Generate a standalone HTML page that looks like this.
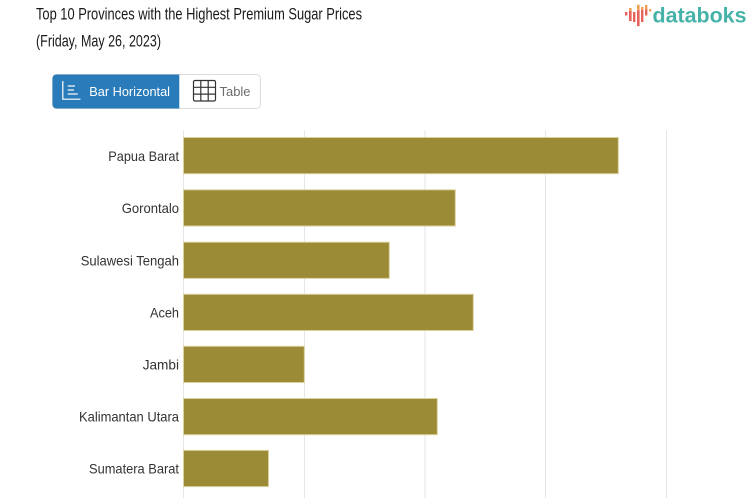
<!DOCTYPE html>
<html>
<head>
<meta charset="utf-8">
<style>
  html, body { margin: 0; padding: 0; background: #ffffff; }
  body { width: 753px; height: 498px; overflow: hidden; }
  svg { display: block; }
  text { font-family: "Liberation Sans", Arial, sans-serif; }
</style>
</head>
<body>
<svg width="753" height="498" viewBox="0 0 753 498" xmlns="http://www.w3.org/2000/svg">
  <!-- Title -->
  <text x="36" y="19.5" font-size="17" fill="#1a1a1a" textLength="326" lengthAdjust="spacingAndGlyphs">Top 10 Provinces with the Highest Premium Sugar Prices</text>
  <text x="36" y="46.5" font-size="17" fill="#1a1a1a" textLength="125" lengthAdjust="spacingAndGlyphs">(Friday, May 26, 2023)</text>

  <!-- Logo -->
  <g>
    <rect x="625" y="12" width="2.4" height="3.5" fill="#e8615a"/>
    <rect x="629" y="8" width="2.6" height="3" fill="#f2a053"/>
    <rect x="629" y="11" width="2.6" height="10" fill="#e8615a"/>
    <rect x="633" y="12" width="2.4" height="10" fill="#e8615a"/>
    <rect x="637" y="4.7" width="2.6" height="5.5" fill="#f2a053"/>
    <rect x="637" y="10.2" width="2.6" height="16" fill="#e8615a"/>
    <rect x="641" y="7" width="2.4" height="3" fill="#f2a053"/>
    <rect x="641" y="10" width="2.4" height="12" fill="#e8615a"/>
    <rect x="645" y="5" width="2.4" height="4.5" fill="#f2a053"/>
    <rect x="645" y="9.5" width="2.4" height="6" fill="#e8615a"/>
    <rect x="649" y="9" width="2.2" height="2.5" fill="#f2a053"/>
    <text x="652.5" y="22.7" font-size="21" font-weight="bold" fill="#45b2a8" textLength="94" lengthAdjust="spacingAndGlyphs">databoks</text>
  </g>

  <!-- Toggle -->
  <rect x="52.5" y="74.5" width="208" height="34" rx="4" ry="4" fill="#ffffff" stroke="#dcdcdc" stroke-width="1"/>
  <path d="M56.5 74.5 H179.3 V108.5 H56.5 A4 4 0 0 1 52.5 104.5 V78.5 A4 4 0 0 1 56.5 74.5 Z" fill="#2a7bb9"/>
  <!-- bar icon -->
  <g stroke="#ffffff" stroke-width="1.2" fill="none">
    <path d="M62.8 81 V99.2 H80.5"/>
    <path d="M67.7 86 H75"/>
    <path d="M67.7 90 H74"/>
    <path d="M67.7 94 H77.7"/>
  </g>
  <text x="89.3" y="96" font-size="13" fill="#ffffff" textLength="80.7" lengthAdjust="spacingAndGlyphs">Bar Horizontal</text>
  <!-- table icon -->
  <g stroke="#333333" stroke-width="1.2" fill="none">
    <rect x="193.5" y="80.5" width="22" height="20.5" rx="1.5" ry="1.5"/>
    <path d="M200.8 80.5 V101 M208.2 80.5 V101 M193.5 87.3 H215.5 M193.5 94.1 H215.5"/>
  </g>
  <text x="219.5" y="96" font-size="13" fill="#6e6e6e" textLength="31" lengthAdjust="spacingAndGlyphs">Table</text>

  <!-- Gridlines -->
  <g stroke="#e6e6e6" stroke-width="1">
    <line x1="183.5" y1="130" x2="183.5" y2="498"/>
    <line x1="304.5" y1="130" x2="304.5" y2="498"/>
    <line x1="425" y1="130" x2="425" y2="498"/>
    <line x1="545.5" y1="130" x2="545.5" y2="498"/>
    <line x1="666.5" y1="130" x2="666.5" y2="498"/>
  </g>

  <!-- Bars -->
  <g fill="#9c8b36" stroke="#d9d29f" stroke-width="1">
    <rect x="183.5" y="137.5" width="434.8" height="36.2"/>
    <rect x="183.5" y="189.8" width="271.8" height="36.2"/>
    <rect x="183.5" y="242.2" width="205.8" height="36.2"/>
    <rect x="183.5" y="294.3" width="289.8" height="36.2"/>
    <rect x="183.5" y="346.3" width="120.8" height="36.2"/>
    <rect x="183.5" y="398.5" width="253.8" height="36.2"/>
    <rect x="183.5" y="450.4" width="85" height="36.2"/>
  </g>

  <!-- Category labels -->
  <g font-size="14" fill="#333333">
    <text x="108.3" y="161" textLength="70.7" lengthAdjust="spacingAndGlyphs">Papua Barat</text>
    <text x="121.7" y="213.2" textLength="57.3" lengthAdjust="spacingAndGlyphs">Gorontalo</text>
    <text x="80.7" y="265.5" textLength="98.3" lengthAdjust="spacingAndGlyphs">Sulawesi Tengah</text>
    <text x="150" y="317.5" textLength="29" lengthAdjust="spacingAndGlyphs">Aceh</text>
    <text x="142.7" y="369.5" textLength="36.3" lengthAdjust="spacingAndGlyphs">Jambi</text>
    <text x="79" y="421.7" textLength="100" lengthAdjust="spacingAndGlyphs">Kalimantan Utara</text>
    <text x="89" y="473.6" textLength="90" lengthAdjust="spacingAndGlyphs">Sumatera Barat</text>
  </g>
</svg>
</body>
</html>
